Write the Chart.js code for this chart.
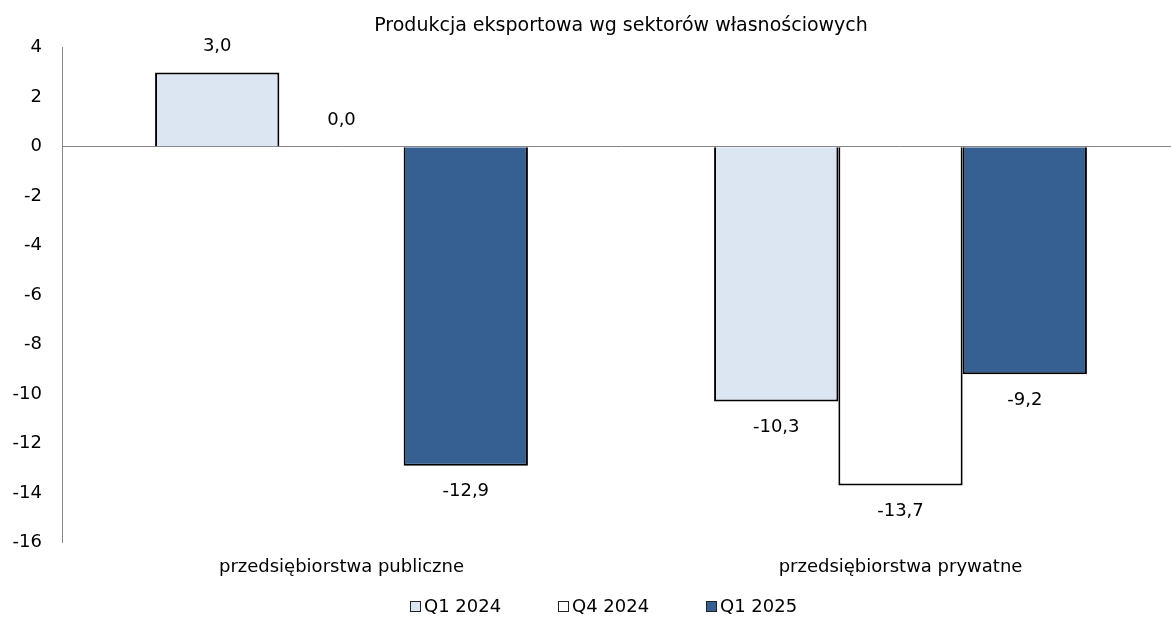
<!DOCTYPE html>
<html>
<head>
<meta charset="utf-8">
<script src="https://cdn.jsdelivr.net/npm/chart.js@4"></script>
<style>
  html, body { margin: 0; padding: 0; background: #fff; overflow: hidden; }
  #wrap { position: relative; width: 1180px; height: 620px; }
  #legend { position: absolute; left: 0; top: 595px; width: 1180px; height: 22px;
            font: 18px 'DejaVu Sans', sans-serif; color: #000; }
  #legend .item { position: absolute; top: 0; line-height: 22px; white-space: nowrap; }
  #legend .box { display: inline-block; width: 9px; height: 9px; border: 1.5px solid #222;
                 margin-right: 3px; vertical-align: 0px; }
</style>
</head>
<body>
<div id="wrap">
  <canvas id="exportChart"></canvas>
  <div id="legend"></div>
</div>
<script>
const categories = ["przedsiębiorstwa publiczne", "przedsiębiorstwa prywatne"];
const seriesNames = ["Q1 2024", "Q4 2024", "Q1 2025"];
const q1_2024 = [3.0, -10.3];
const q4_2024 = [0.0, -13.7];
const q1_2025 = [-12.9, -9.2];
const yTicks = [4, 2, 0, -2, -4, -6, -8, -10, -12, -14, -16];

const colors = ["#dce6f2", "#ffffff", "#376092"];
const FONT = "'DejaVu Sans', sans-serif";

// etykiety wartosci nad/pod slupkami
const valueLabels = {
    id: "valueLabels",
    afterDatasetsDraw(chart) {
        const ctx = chart.ctx;
        ctx.save();
        ctx.font = "18px " + FONT;
        ctx.fillStyle = "#000";
        ctx.textAlign = "center";
        ctx.textBaseline = "middle";
        chart.data.datasets.forEach((ds, i) => {
            const meta = chart.getDatasetMeta(i);
            meta.data.forEach((bar, j) => {
                const v = ds.data[j];
                const y = v >= 0 ? bar.y - 26 : bar.y + 26;
                ctx.fillText(v.toFixed(1).replace(".", ","), bar.x, y);
            });
        });
        ctx.restore();
    },
};

let ctx = document.getElementById("exportChart").getContext("2d");
let exportChart = new Chart(ctx, {
    type: "bar",
    data: {
        labels: categories,
        datasets: [q1_2024, q4_2024, q1_2025].map((d, i) => ({
            label: seriesNames[i],
            data: d,
            backgroundColor: colors[i],
            borderColor: "#000",
            borderWidth: 2,
        })),
    },
    options: {
        responsive: true,
        maintainAspectRatio: false,
        animation: false,
        layout: { padding: { left: 0, right: 0, top: 0, bottom: 36 } },
        datasets: {
            bar: { categoryPercentage: 0.667, barPercentage: 1.0 },
        },
        plugins: {
            title: {
                display: true,
                fullSize: false,
                text: "Produkcja eksportowa wg sektorów własnościowych",
                color: "#000",
                font: { family: FONT, size: 19, weight: "normal" },
                padding: { top: 15, bottom: 10 },
            },
            legend: { display: false },
            tooltip: { enabled: false },
        },
        scales: {
            x: {
                grid: { display: false },
                border: { display: false },
                ticks: {
                    color: "#000",
                    font: { family: FONT, size: 18 },
                    padding: 6,
                },
            },
            y: {
                min: -16,
                max: 4,
                afterBuildTicks: (axis) => {
                    axis.ticks = yTicks.map((v) => ({ value: v }));
                },
                afterFit: (axis) => {
                    axis.width = 62;
                },
                border: { display: true, color: "#868686", width: 1 },
                grid: {
                    drawTicks: false,
                    color: (c) => (c.tick && c.tick.value === 0 ? "#868686" : "rgba(0,0,0,0)"),
                },
                ticks: {
                    color: "#000",
                    font: { family: FONT, size: 18 },
                    padding: 20,
                },
            },
        },
    },
    plugins: [valueLabels],
});

// legenda pod wykresem
const legendX = [410, 558, 706];
const legendEl = document.getElementById("legend");
seriesNames.forEach((name, i) => {
    const item = document.createElement("span");
    item.className = "item";
    item.style.left = legendX[i] + "px";
    const box = document.createElement("span");
    box.className = "box";
    box.style.background = colors[i];
    item.appendChild(box);
    item.appendChild(document.createTextNode(name));
    legendEl.appendChild(item);
});
</script>
</body>
</html>
